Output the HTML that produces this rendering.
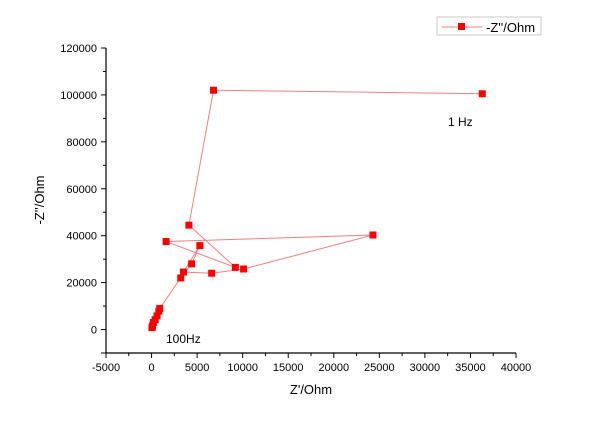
<!DOCTYPE html>
<html><head><meta charset="utf-8"><style>
html,body{margin:0;padding:0;background:#fff;}
svg text{font-family:"Liberation Sans",Arial,sans-serif;}
</style></head><body>
<svg id="chart" width="600" height="424" viewBox="0 0 600 424" xmlns="http://www.w3.org/2000/svg">
<g id="axes"></g>
<g id="series"></g>
<text x="311" y="394" font-size="13" text-anchor="middle">Z'/Ohm</text>
<text x="0" y="0" font-size="13" text-anchor="middle" transform="translate(44,200) rotate(-90)">-Z''/Ohm</text>
<text x="448" y="126" font-size="12">1 Hz</text>
<text x="166" y="343" font-size="12">100Hz</text>
<g>
<rect x="437" y="17" width="104" height="18" fill="#fff" stroke="#bbb" stroke-width="0.8"/>
<line x1="442" y1="27" x2="482" y2="27" stroke="#f08080" stroke-width="1"/>
<rect x="458" y="23" width="7" height="7" fill="#f00"/>
<text x="486" y="32" font-size="13">-Z''/Ohm</text>
</g>
</svg>
<script>
const xTicks=[-5000,0,5000,10000,15000,20000,25000,30000,35000,40000];
const yTicks=[0,20000,40000,60000,80000,100000,120000];
const zReal=[36300,6800,4100,9200,1600,24300,10100,6600,3500,5300,4400,3200,900,800,600,400,200,100,50];
const zImag=[100500,102000,44500,26500,37500,40300,25800,24000,24500,35800,28000,22000,9000,7800,5800,4200,3000,1500,800];
const NS="http://www.w3.org/2000/svg";
const X0=106,X1=516,Y0=353,Y1=48;
const xs=v=>X0+(v+5000)/45000*(X1-X0);
const ys=v=>Y0-(v+10000)/130000*(Y0-Y1);
function mk(t,a,p){const e=document.createElementNS(NS,t);for(const k in a)e.setAttribute(k,a[k]);p.appendChild(e);return e;}
const ax=document.getElementById('axes');
const xa=mk('line',{x1:X0,y1:Y0,x2:X1,y2:Y0,stroke:'#000','stroke-width':1.2},ax);


const ya=mk('line',{x1:X0,y1:Y0,x2:X0,y2:Y1,stroke:'#000','stroke-width':1.2},ax);


xTicks.forEach((v,i)=>{const x=xs(v);mk('line',{x1:x,y1:Y0,x2:x,y2:Y0+5,stroke:'#000'},ax);
if(i<xTicks.length-1)mk('line',{x1:xs(v+2500),y1:Y0,x2:xs(v+2500),y2:Y0+3,stroke:'#000'},ax);
const t=mk('text',{x:x,y:Y0+18,'font-size':11,'text-anchor':'middle'},ax);t.textContent=v;

});
[-10000].concat(yTicks).forEach(v=>{const y=ys(v);mk('line',{x1:X0-5,y1:y,x2:X0,y2:y,stroke:'#000'},ax);});
yTicks.forEach(v=>{const y=ys(v);mk('line',{x1:X0-3,y1:ys(v-10000),x2:X0,y2:ys(v-10000),stroke:'#000'},ax);
const t=mk('text',{x:X0-9,y:y+4,'font-size':11,'text-anchor':'end'},ax);t.textContent=v;

});
const s=document.getElementById('series');
const pl=mk('polyline',{points:zReal.map((v,i)=>xs(v)+','+ys(zImag[i])).join(' '),fill:'none',stroke:'#f08080','stroke-width':1},s);


zReal.forEach((v,i)=>{const r=mk('rect',{x:xs(v)-3.5,y:ys(zImag[i])-3.5,width:7,height:7,fill:'#f00'},s);

});
</script>
</body></html>
